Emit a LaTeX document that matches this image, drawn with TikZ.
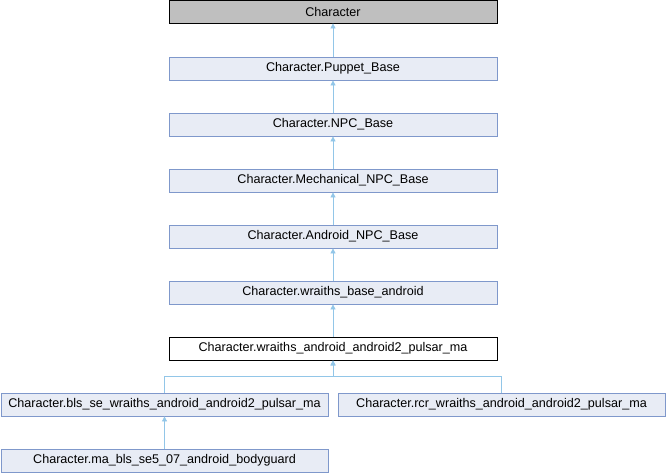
\documentclass[tikz,border=0pt]{standalone}
\usepackage{fontspec}
\setmainfont{Liberation Sans}
\usetikzlibrary{arrows.meta}
\definecolor{boxfill}{HTML}{E8ECF5}
\definecolor{boxline}{HTML}{7F98CB}
\definecolor{rootfill}{HTML}{BFBFBF}
\definecolor{edgeblue}{HTML}{92C6E8}
\begin{document}
\begin{tikzpicture}[x=1pt,y=-1pt,
  cls/.style={draw=boxline,fill=boxfill,line width=0.8pt,minimum height=23pt,
    inner sep=0pt,font=\fontsize{12.6pt}{14pt}\selectfont,text=black},
  root/.style={cls,draw=black,fill=rootfill},
  focus/.style={cls,draw=black,fill=white},
  edge/.style={draw=edgeblue,line width=0.8pt,
    {Triangle[length=5pt,width=5pt,fill=edgeblue]}-}]
\useasboundingbox (0,0) rectangle (666,472);
% main inheritance column
\node[root,minimum width=328pt]  (chr)  at (333,11.5)  {Character};
\node[cls,minimum width=328pt]   (pup)  at (333,68.5)  {Character.Puppet\_Base};
\node[cls,minimum width=328pt]   (npc)  at (333,124.5) {Character.NPC\_Base};
\node[cls,minimum width=328pt]   (mech) at (333,180.5) {Character.Mechanical\_NPC\_Base};
\node[cls,minimum width=328pt]   (andr) at (333,236.5) {Character.Android\_NPC\_Base};
\node[cls,minimum width=328pt]   (wba)  at (333,292.5) {Character.wraiths\_base\_android};
\node[focus,minimum width=328pt] (wam)  at (333,348.5) {Character.wraiths\_android\_android2\_pulsar\_ma};
% derived classes
\node[cls,minimum width=327pt] (bls) at (164.5,404.5) {Character.bls\_se\_wraiths\_android\_android2\_pulsar\_ma};
\node[cls,minimum width=327pt] (rcr) at (501.5,404.5) {Character.rcr\_wraiths\_android\_android2\_pulsar\_ma};
\node[cls,minimum width=327pt] (mab) at (164.5,460.5) {Character.ma\_bls\_se5\_07\_android\_bodyguard};
\coordinate (fork) at (333,376);
% inheritance edges
\draw[edge] (chr.south)  -- (pup.north);
\draw[edge] (pup.south)  -- (npc.north);
\draw[edge] (npc.south)  -- (mech.north);
\draw[edge] (mech.south) -- (andr.north);
\draw[edge] (andr.south) -- (wba.north);
\draw[edge] (wba.south)  -- (wam.north);
\draw[edge] (wam.south)  -- (fork) -| (bls.north);
\draw[edge] (wam.south)  -- (fork) -| (rcr.north);
\draw[edge] (bls.south)  -- (mab.north);
\end{tikzpicture}
\end{document}
